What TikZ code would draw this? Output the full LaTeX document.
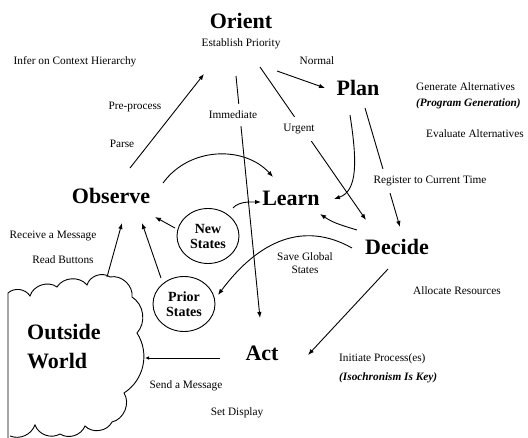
\documentclass[tikz,border=0pt]{standalone}
\usepackage{fontspec}
\setmainfont{LiberationSerif}[Extension=.ttf, UprightFont=*-Regular, BoldFont=*-Bold, ItalicFont=*-Italic, BoldItalicFont=*-BoldItalic]
\usetikzlibrary{arrows.meta,shapes.geometric}
\begin{document}
\begin{tikzpicture}[x=1pt,y=-1pt,
  big/.style={font=\fontsize{22}{24}\selectfont\bfseries, inner sep=1pt},
  lbl/.style={font=\fontsize{11.3}{13}\selectfont, inner sep=1pt},
  circ/.style={draw, line width=0.9pt, ellipse, minimum width=62pt, minimum height=55pt, inner sep=0pt, align=center, font=\fontsize{14}{15}\selectfont\bfseries},
  gap/.style={fill=white, inner xsep=2pt, inner ysep=7pt},
  conn/.style={line width=0.9pt, -{Latex[length=6pt,width=4.5pt]}},
  cloudline/.style={line width=0.9pt}]
\useasboundingbox (0,0) rectangle (528,438);

% main nodes
\node[big] (orient) at (241,21) {Orient};
\node[big] (plan) at (358,88) {Plan};
\node[big] (observe) at (111,196) {Observe};
\node[big] (learn) at (291,198) {Learn};
\node[big] (decide) at (397,247) {Decide};
\node[big] (act) at (262,353) {Act};
\node[circ] (new) at (208,236) {New\\States};
\node[circ] (prior) at (184,304) {Prior\\States};

% labels
\node[lbl] (estab) at (241,44) {Establish Priority};
\node[lbl] (infer) at (75,62) {Infer on Context Hierarchy};
\node[lbl] (normal) at (317,61) {Normal};
\node[lbl,anchor=west] (gen) at (415,87) {Generate Alternatives};
\node[lbl,anchor=west] (pg) at (415,104) {\bfseries\itshape (Program Generation)};
\node[lbl,anchor=west] (eval) at (425,134) {Evaluate Alternatives};
\node[lbl] (pre) at (135,107) {Pre-process};
\node[lbl] (parse) at (122,144) {Parse};
\node[lbl] (recv) at (53,236) {Receive a Message};
\node[lbl] (read) at (63,260) {Read Buttons};
\node[lbl,align=center] (save) at (305,263) {Save Global\\States};
\node[lbl] (alloc) at (457,291) {Allocate Resources};
\node[lbl,anchor=west] (init) at (338,359) {Initiate Process(es)};
\node[lbl,anchor=west] (iso) at (338,378) {\bfseries\itshape (Isochronism Is Key)};
\node[lbl] (send) at (186,386) {Send a Message};
\node[lbl] (setd) at (237,413) {Set Display};

% cloud
\draw[cloudline] (8,438) -- (8,293) to[bend left=50] (30,296) to[bend left=55] (57,287)
  to[bend left=55] (87,285) to[bend left=55] (110,277) to[bend left=55] (132,297)
  to[bend left=50] (137,333) to[bend left=45] (124,393) to[bend left=55] (112,422)
  to[bend left=55] (85,426) to[bend left=50] (60,434) to[bend left=50] (35,425)
  to[bend left=45] (10,436);
\coordinate (cloudN) at (107,277);
\coordinate (cloudE) at (145,358);
\node[font=\fontsize{22}{29}\selectfont\bfseries, align=left, anchor=west, inner sep=0pt] (outside) at (27,347) {Outside\\World};

% connectors
\draw[conn] ([shift={(19,-28)}]observe.center) -- ([shift={(-37,53)}]orient.center);
\draw[conn] ([shift={(-5,55)}]orient.center) -- ([shift={(-2,-35)}]act.center);
\node[lbl,gap] (imm) at (233,115) {Immediate};
\draw[conn] ([shift={(36,50)}]orient.center) -- ([shift={(-33,0)}]plan.center);
\draw[conn] ([shift={(19,46)}]orient.center) -- ([shift={(-31,-27)}]decide.center);
\node[lbl,gap] (urgent) at (299,129) {Urgent};
\draw[conn] ([shift={(-8,27)}]plan.center) .. controls +(7,45) and +(24,-8) .. ([shift={(43,1)}]learn.center);
\draw[conn] ([shift={(7,20)}]plan.center) -- ([shift={(3,-20)}]decide.center);
\node[lbl,gap] (reg) at (430,181) {Register to Current Time};
\draw[conn] ([shift={(52,-13)}]observe.center) .. controls +(27,-37) and +(-28,-31) .. ([shift={(-18,-21)}]learn.center);
\draw[conn] ([shift={(25,-28)}]new.center) .. controls +(6,-7) and +(-9,0) .. ([shift={(-30,4)}]learn.center);
\draw[conn] ([shift={(-33,-8)}]new.center) -- ([shift={(44,21)}]observe.center);
\draw[conn] ([shift={(-23,-26)}]prior.center) -- ([shift={(31,27)}]observe.center);
\draw[conn] ([shift={(-40,-17)}]decide.center) .. controls +(-20,-6) and +(12,8) .. ([shift={(29,16)}]learn.center);
\draw[conn] ([shift={(-45,1)}]decide.center) .. controls +(-48,-27) and +(41,-55) .. ([shift={(34,-9)}]prior.center);
\draw[conn] ([shift={(-9,22)}]decide.center) -- ([shift={(46,2)}]act.center);
\draw[line width=0.9pt, -{Latex[length=4pt,width=3.5pt]}] ([shift={(-42,5)}]act.center) -- (cloudE);
\draw[conn] (cloudN) -- ([shift={(11,27)}]observe.center);
\end{tikzpicture}
\end{document}
